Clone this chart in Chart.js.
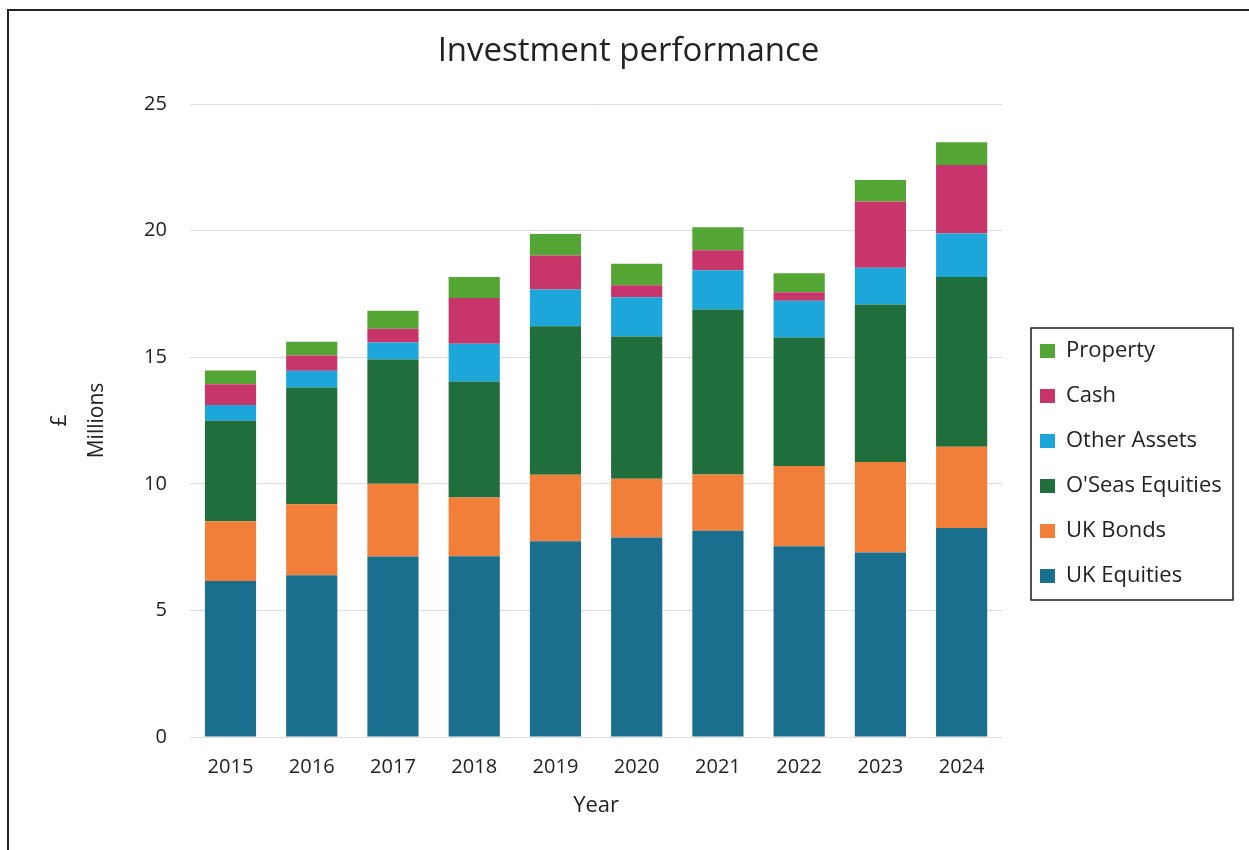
<!DOCTYPE html>
<html>
<head>
<meta charset="utf-8">
<script src="https://cdn.jsdelivr.net/npm/chart.js@4.4.1/dist/chart.umd.min.js"></script>
<style>
  html, body { margin: 0; padding: 0; background: #ffffff; }
  #wrap { position: relative; width: 1249px; height: 850px; }
</style>
</head>
<body>
<div id="wrap"><canvas id="c" width="1249" height="850"></canvas></div>
<script>
const years = ['2015', '2016', '2017', '2018', '2019', '2020', '2021', '2022', '2023', '2024'];
const ukEquities = [6.16, 6.39, 7.13, 7.14, 7.73, 7.88, 8.15, 7.53, 7.29, 8.25];
const ukBonds = [2.36, 2.80, 2.87, 2.32, 2.63, 2.32, 2.22, 3.17, 3.57, 3.21];
const overseasEquities = [3.97, 4.61, 4.91, 4.58, 5.86, 5.62, 6.51, 5.08, 6.22, 6.71];
const otherAssets = [0.62, 0.66, 0.67, 1.49, 1.45, 1.55, 1.55, 1.45, 1.45, 1.72];
const cash = [0.82, 0.61, 0.54, 1.81, 1.35, 0.47, 0.79, 0.34, 2.62, 2.70];
const property = [0.54, 0.54, 0.71, 0.83, 0.85, 0.85, 0.91, 0.75, 0.85, 0.90];
const seriesNames = ['UK Equities', 'UK Bonds', "O'Seas Equities", 'Other Assets', 'Cash', 'Property'];

const FONT = "'Open Sans', 'Noto Sans', sans-serif";
const colors = ['#1a6f8f', '#f17f3a', '#1f6e3b', '#1ca6d9', '#c8356b', '#53a633'];
const seriesData = [ukEquities, ukBonds, overseasEquities, otherAssets, cash, property];

const legendBox = { x: 1031, y: 328, w: 202, h: 272 };

const framePlugin = {
  id: 'framePlugin',
  afterLayout(chart) {
    const lg = chart.legend;
    if (!lg) return;
    const pad = lg.options.labels.padding;
    lg.left = legendBox.x + 9 - pad;
    lg.right = lg.left + lg.width;
    lg.top = 308;
    lg.bottom = 619;
    lg.height = lg.bottom - lg.top;
  },
  afterDraw(chart) {
    const ctx = chart.ctx;
    ctx.save();
    ctx.strokeStyle = '#1a1a1a';
    ctx.lineWidth = 1.5;
    ctx.strokeRect(legendBox.x, legendBox.y, legendBox.w, legendBox.h);
    ctx.lineWidth = 2;
    ctx.strokeStyle = '#222';
    ctx.beginPath();
    ctx.moveTo(8, 860);
    ctx.lineTo(8, 10);
    ctx.lineTo(1249, 10);
    ctx.stroke();
    ctx.restore();
  }
};

new Chart(document.getElementById('c'), {
  type: 'bar',
  data: {
    labels: years,
    datasets: seriesNames.map((name, i) => ({
      label: name,
      data: seriesData[i],
      backgroundColor: colors[i],
      borderWidth: 0,
      barPercentage: 0.7,
      categoryPercentage: 0.9
    }))
  },
  options: {
    responsive: false,
    animation: false,
    layout: { padding: { left: 40, right: 32, top: 0, bottom: 30.6 } },
    plugins: {
      title: {
        display: true,
        text: 'Investment performance',
        color: '#222',
        font: { family: FONT, size: 33, weight: 'normal', lineHeight: 1.2 },
        padding: { top: 32.2, bottom: 32.2 }
      },
      legend: {
        position: 'right',
        align: 'center',
        reverse: true,
        labels: {
          color: '#222',
          font: { family: FONT, size: 22 },
          boxWidth: 15,
          boxHeight: 14,
          padding: 23
        }
      },
      tooltip: { enabled: false }
    },
    scales: {
      x: {
        stacked: true,
        grid: { display: false, drawTicks: false },
        border: { display: false },
        ticks: { color: '#222', font: { family: FONT, size: 20 }, padding: 18 },
        title: {
          display: true, text: 'Year', color: '#222',
          font: { family: FONT, size: 22, lineHeight: 1.2 },
          padding: { top: -4, bottom: 0 }
        }
      },
      y: {
        stacked: true,
        min: 0, max: 25,
        ticks: { stepSize: 5, color: '#222', font: { family: FONT, size: 20 }, padding: 23 },
        grid: { color: '#dedede', drawTicks: false },
        border: { display: false },
        title: {
          display: true, text: ['£', 'Millions'], color: '#222',
          font: { family: FONT, size: 21, lineHeight: 1.762 },
          padding: { top: 1.5, bottom: 5.5 }
        }
      }
    }
  },
  plugins: [framePlugin]
});
</script>
</body>
</html>
